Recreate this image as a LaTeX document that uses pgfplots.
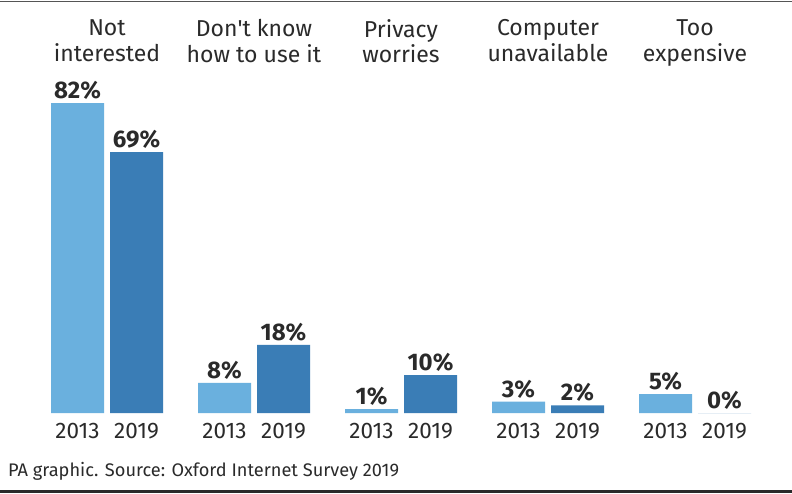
\documentclass[border=0pt]{standalone}
\usepackage{pgfplots}
\pgfplotsset{compat=1.18}
\usepackage{fontspec}
\setmainfont{Fira Sans}
\newfontfamily\rawfs{Fira Sans}[Ligatures=ResetAll]
\definecolor{lightbar}{HTML}{6AB0DE}
\definecolor{darkbar}{HTML}{3A7DB6}
\definecolor{txt}{HTML}{2A2A2A}
\begin{document}
\begin{tikzpicture}[x=1pt,y=1pt]
\useasboundingbox (0,0) rectangle (792,493);
\fill[white] (0,0) rectangle (792,493);
\draw[line width=1.5pt, color=txt!80] (0,491.5) -- (792,491.5);
\draw[line width=3pt, color=txt] (0,1.5) -- (792,1.5);
\begin{axis}[
  at={(0pt,80pt)}, anchor=south west,
  scale only axis, width=792pt, height=413pt,
  xmin=0, xmax=792, ymin=0, ymax=109.26,
  axis line style={draw=none},
  ytick=\empty,
  xtick={77.5,136.5,224.5,283.5,371.5,430.5,518.5,577.5,665.5,724.5},
  xticklabels={2013,2019,2013,2019,2013,2019,2013,2019,2013,2019},
  major tick length=0pt,
  xticklabel style={font=\fontsize{22.5}{22.5}\selectfont, text=txt, yshift=-7pt},
  ybar, bar width=53pt,
  /pgf/number format/assume math mode=true,
  nodes near coords={\pgfmathprintnumber{\pgfplotspointmeta}\%},
  every node near coord/.append style={font=\fontsize{24}{24}\selectfont\bfseries, text=txt},
  clip=false,
]
\addplot[fill=lightbar, draw=none, bar shift=-29.5pt] coordinates {(107,82) (254,8) (401,1) (548,3) (695,5)};
\addplot[fill=darkbar, draw=none, bar shift=29.5pt] coordinates {(107,69) (254,18) (401,10) (548,2) (695,0)};
\end{axis}
\begin{scope}[every node/.style={anchor=north, align=center, inner sep=0pt, font=\fontsize{23}{23}\selectfont, text=txt}]
\node at (107,474) {\strut Not\\interested};
\node at (254,474) {\strut Don{\rawfs'}t know\\how to use it};
\node at (401,474) {\strut Privacy\\worries};
\node at (548,474) {\strut Computer\\unavailable};
\node at (695,474) {\strut Too\\expensive};
\end{scope}
\node[anchor=base west, inner sep=0pt, font=\fontsize{18.2}{18.2}\selectfont, text=txt] at (8,16.5) {PA graphic. Source: Oxford Internet Survey 2019};
\end{tikzpicture}
\end{document}
